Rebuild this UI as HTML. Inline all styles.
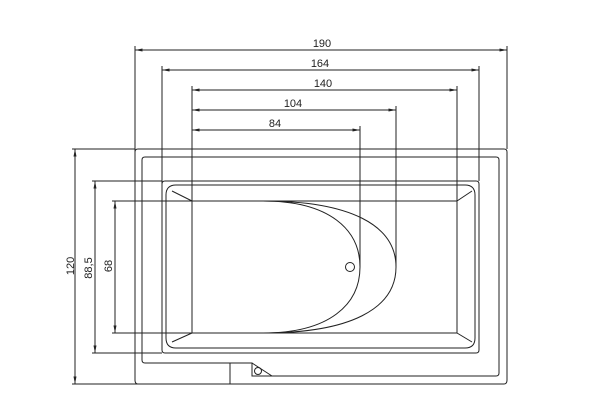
<!DOCTYPE html>
<html><head><meta charset="utf-8"><style>html,body{margin:0;padding:0;background:#fff}svg{display:block}</style></head>
<body>
<svg width="600" height="408" viewBox="0 0 600 408" xmlns="http://www.w3.org/2000/svg" font-family="Liberation Sans, sans-serif" font-size="11" fill="none" stroke="#222" stroke-width="1">
<defs><marker id="a" viewBox="0 0 10 4" refX="10" refY="2" markerWidth="8" markerHeight="3" orient="auto-start-reverse"><path d="M0,0L10,2L0,4z" fill="#222" stroke="none"/></marker></defs>
<!-- horizontal dims -->
<line x1="135" y1="50" x2="507" y2="50" marker-start="url(#a)" marker-end="url(#a)"/>
<line x1="162" y1="70" x2="479" y2="70" marker-start="url(#a)" marker-end="url(#a)"/>
<line x1="192" y1="90" x2="457" y2="90" marker-start="url(#a)" marker-end="url(#a)"/>
<line x1="192" y1="110" x2="396" y2="110" marker-start="url(#a)" marker-end="url(#a)"/>
<line x1="192" y1="130" x2="360" y2="130" marker-start="url(#a)" marker-end="url(#a)"/>
<!-- extension lines -->
<line x1="135" y1="46" x2="135" y2="380"/>
<line x1="507" y1="46" x2="507" y2="149"/>
<line x1="162" y1="66" x2="162" y2="350"/>
<line x1="479" y1="66" x2="479" y2="181"/>
<line x1="192" y1="86" x2="192" y2="333"/>
<line x1="457" y1="86" x2="457" y2="333"/>
<line x1="396" y1="106" x2="396" y2="267"/>
<line x1="360" y1="126" x2="360" y2="267"/>
<!-- vertical dims -->
<line x1="72" y1="149" x2="135" y2="149"/>
<line x1="72" y1="384" x2="230" y2="384"/>
<line x1="92" y1="181" x2="162" y2="181"/>
<line x1="92" y1="353" x2="162" y2="353"/>
<line x1="112" y1="201" x2="192" y2="201"/>
<line x1="112" y1="333" x2="192" y2="333"/>
<line x1="75" y1="149" x2="75" y2="384" marker-start="url(#a)" marker-end="url(#a)"/>
<line x1="95" y1="181" x2="95" y2="353" marker-start="url(#a)" marker-end="url(#a)"/>
<line x1="115" y1="201" x2="115" y2="333" marker-start="url(#a)" marker-end="url(#a)"/>
<!-- outer rect -->
<path d="M138,149H504Q507,149 507,152V380Q507,384 504,384H138Q135,384 135,380V152Q135,149 138,149Z"/>
<!-- second -->
<path d="M252,363H145Q142,363 142,360V160Q142,157 145,157H496Q499,157 499,160V373Q499,376 496,376H252Z"/>
<line x1="230" y1="363" x2="230" y2="384"/>
<path d="M252,363L272,376"/>
<circle cx="258" cy="371" r="3.5"/>
<!-- third -->
<path d="M165,181H476Q479,181 479,184V350Q479,353 476,353H165Q162,353 162,350V184Q162,181 165,181Z"/>
<!-- inner rounded -->
<path d="M176,185H465Q475,185 475,195V338Q475,348 465,348H176Q166,348 166,338V195Q166,185 176,185Z"/>
<!-- basin -->
<path d="M192,201H457V333H192Z"/>
<line x1="172" y1="191" x2="192" y2="201"/>
<line x1="457" y1="201" x2="472" y2="191"/>
<line x1="457" y1="333" x2="472" y2="342"/>
<line x1="192" y1="333" x2="172" y2="342"/>
<!-- curves -->
<path d="M263,201C330,201 360,230 360,267C360,304 330,333 263,333"/>
<path d="M263,201C350,201 396,225 396,267C396,309 350,333 263,333"/>
<circle cx="350" cy="267" r="4.5"/>
<!-- labels -->
<g fill="#222" stroke="none" text-anchor="middle">
<text x="322" y="47">190</text>
<text x="320" y="67">164</text>
<text x="323" y="87">140</text>
<text x="293" y="107">104</text>
<text x="275" y="127">84</text>
<text transform="translate(74,266) rotate(-90)">120</text>
<text transform="translate(92,268) rotate(-90)">88,5</text>
<text transform="translate(112,266) rotate(-90)">68</text>
</g>
</svg>
</body></html>
